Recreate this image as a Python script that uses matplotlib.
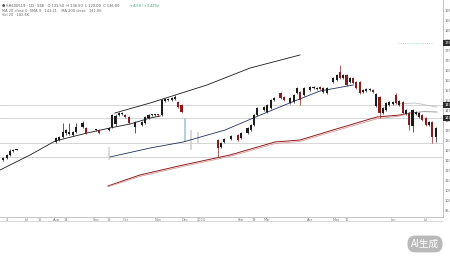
import matplotlib
matplotlib.use('Agg')
import matplotlib.pyplot as plt
from matplotlib.lines import Line2D

# candles: index, open, high, low, close
idx = [1, 2, 3, 4, 5,
       17, 18, 19, 20, 21, 22, 23, 25, 26, 29, 30,
       33, 34, 35, 36, 37, 38, 39, 41, 43, 44, 45, 46, 47, 48,
       49, 50, 51, 52, 53, 54, 55,
       66, 67, 68, 70, 72, 73, 75, 76, 77, 78, 80, 81, 82, 83, 85, 86,
       88, 89, 90, 91, 92, 94, 95, 96, 97, 98, 99,
       101, 102, 103, 104, 105, 106, 107, 108, 109, 110, 111, 112, 113,
       114, 115, 116, 117, 118, 119, 120, 121, 122, 123, 124, 125, 126,
       127, 128, 129, 130, 131, 132]
opens = [120, 121, 122.5, 124.5, 125,
         129, 130, 131.5, 133.5, 133, 132.5, 134, 136.5, 136, 135, 135,
         135, 136.5, 138, 142.5, 143, 142.5, 141.5, 136.5, 137.5, 138.5, 141, 142.5, 142.5, 142.7,
         142.5, 149.5, 150, 150, 150.5, 149, 147.5,
         130, 126.5, 129, 130.5, 132.5, 131, 133.5, 135, 137.5, 142.5, 145, 144, 146, 150, 153.5, 151.5,
         148.5, 149, 153.5, 154, 152.5, 155, 156, 155.5, 156.5, 154, 153.5,
         159, 160, 164, 161, 162.5, 159, 161, 159, 159, 154, 154.5, 155, 155,
         147, 151.5, 143.5, 145, 147.5, 148, 152.5, 147.5, 149, 143, 143.5, 137, 143,
         141.5, 142.5, 141, 137.5, 139, 131.5]
highs = [121.5, 123, 125.5, 125.5, 125.5,
         131.5, 132, 138.5, 135.5, 138.5, 134.5, 138.5, 139.5, 136.5, 135.5, 135.5,
         136.5, 143, 143, 144, 144, 143, 142, 139.5, 139.5, 142, 143, 143, 143, 143,
         150.5, 151, 151, 151.5, 152.5, 149.5, 148,
         130.5, 129, 131, 132.5, 133, 134, 136.5, 138, 143, 146.5, 147, 148, 150.5, 151.5, 154, 152,
         151.5, 153, 156.5, 154.5, 156.5, 157, 157, 156.5, 157, 156.5, 156.5,
         161.5, 163, 167.5, 163, 163, 161.5, 161.5, 159.5, 159.5, 155.5, 156, 156, 155.5,
         153.5, 152, 146.5, 149, 149.5, 149.5, 153.5, 150, 149.5, 145.5, 144, 145.5, 144.5,
         144, 143, 141.5, 139.5, 139.5, 136.5]
lows = [119.5, 120.5, 122, 124, 124.8,
        128.5, 129.5, 131, 132.5, 132.5, 132, 133.5, 136, 133, 134.5, 133,
        134.5, 136, 137, 142, 142.5, 141, 138, 133.5, 137, 138, 140.5, 142, 142, 142.2,
        142, 149, 149.5, 149.5, 150, 146, 143.5,
        121.5, 126, 128.5, 130, 129.5, 130.5, 133, 134.5, 137, 142, 144.5, 143.5, 145.5, 149.5, 150.5, 149.5,
        148, 148.5, 153, 147.5, 152, 154.5, 155.5, 155, 155, 153.5, 153,
        158.5, 159.5, 160.5, 160.5, 157, 158.5, 158, 155.5, 153, 153.5, 154, 154.5, 153.5,
        146.5, 141, 143, 144.5, 147, 147.5, 148, 147, 143, 142.5, 135, 134, 142.5,
        141, 139.5, 137, 137, 128.5, 129]
closes = [121, 122.5, 124.5, 125, 125.2,
          131, 131.5, 134, 135, 134, 134, 136.5, 138.5, 133.5, 135.3, 133.5,
          136, 142.5, 142, 143.5, 143.5, 141.5, 138.5, 139, 139, 141.5, 142.5, 142.7, 142.7, 142.5,
          150, 150.5, 150.5, 151, 151.5, 146.5, 144,
          126, 128.5, 130.5, 132, 130, 133.5, 136, 137.5, 142.5, 146, 146.5, 147.5, 150, 151, 151, 150,
          151, 152.5, 156, 150, 156, 156.5, 156.5, 156, 155.5, 156, 156,
          161, 162.5, 161, 162.5, 157.5, 161, 158.5, 156, 153.5, 155, 155.5, 155.5, 154,
          153, 143.5, 146, 148.5, 149, 149, 148.5, 149.5, 143.5, 145, 137.5, 145, 144,
          143.5, 140, 137.5, 139, 131.5, 136]

# faded bars in the gap
ghost_idx = [33, 56, 58, 60]
ghost_low = [120, 129, 125, 128.5]
ghost_high = [126.5, 141, 135, 134]
ghost_col = ['#d8d8d8', '#a9c6dc', '#cfcfcf', '#cfcfcf']

# drawn lines / averages (index, price)
line_a_x = [0, 9.1, 16.7, 26.4, 33.3, 39.4, 45.5, 48.5]
line_a_y = [115, 122.5, 129.5, 133.5, 136, 138, 141, 142]
line_b_x = [34.8, 45.5, 62.7, 75.8, 90.9]
line_b_y = [143.5, 148.5, 157.5, 166, 172.5]
line_c_x = [33.3, 45.5, 55.5, 68.2, 78.2, 88.5, 97, 107]
line_c_y = [121.5, 126, 129, 135, 142, 149, 154.5, 157.5]
ma_x = [32.7, 42.4, 55.5, 69.7, 83.3, 90.9, 100.9, 114.2, 121.2, 124.2]
ma_slow = [107, 112.5, 117.5, 122.5, 129, 130, 135, 141.5, 142.5, 143.5]
ma_slow2 = [106.6, 111.8, 116.8, 121.8, 128.2, 129.3, 134.2, 140.6, 142, 143.5]
gray1_x = [119.7, 125.8, 132.4]
gray1_y = [148, 148.5, 146.5]
gray2_x = [124.2, 128.5, 132.4]
gray2_y = [143.5, 144.2, 144]
dotted_x = [120.6, 130.9]
dotted_y = [178.5, 178.5]

levels = [147.5, 141, 128.5, 121.5]
marked = [178.5, 147.5, 141]

date_pos = [2, 8, 12, 17, 20, 29, 33, 38, 48, 56, 61, 73, 77, 81, 94, 102, 105, 119, 129]
date_lbl = ['4', 'Jul', '15', 'Aug', '14', 'Sep', '18', 'Oct', 'Nov', 'Dec', '2024', 'Feb', '19',
            'Mar', 'Apr', 'May', '16', 'Jun', 'Jul']

fig = plt.figure(figsize=(4.5, 2.57), dpi=100)
ax = fig.add_axes([0, 40 / 257, 443 / 450, 217 / 257])
ax.set_xlim(0, 443 / 3.3)
ax.set_ylim(91.5, 200)

for lv in levels:
    ax.axhline(lv, color='#cfcfcf', lw=0.6, zorder=0)

for i, lo, hi, c in zip(ghost_idx, ghost_low, ghost_high, ghost_col):
    ax.vlines(i, lo, hi, color=c, lw=1.2, zorder=1)

ax.plot(line_a_x, line_a_y, color='#1a1a1a', lw=0.6, zorder=2)
ax.plot(line_b_x, line_b_y, color='#1a1a1a', lw=0.6, zorder=2)
ax.plot(line_c_x, line_c_y, color='#23305e', lw=0.6, zorder=2)
ax.plot(ma_x, ma_slow, color='#8c1c1c', lw=0.7, zorder=2)
ax.plot(ma_x, ma_slow2, color='#d79a9a', lw=0.6, zorder=2)
ax.plot(gray1_x, gray1_y, color='#bdbdbd', lw=0.6, zorder=2)
ax.plot(gray2_x, gray2_y, color='#8f8f8f', lw=0.6, zorder=2)
ax.plot(dotted_x, dotted_y, color='#8fcfc4', lw=0.6, ls=':', zorder=2)

cols = ['#1c1c1c' if c >= o else '#8b1a1a' for o, c in zip(opens, closes)]
ax.vlines(idx, lows, highs, color=cols, lw=0.5, zorder=3)
bottoms = [min(o, c) for o, c in zip(opens, closes)]
heights = [max(abs(c - o), 0.4) for o, c in zip(opens, closes)]
ax.bar(idx, heights, bottom=bottoms, width=0.65, color=cols, zorder=4)

ax.yaxis.tick_right()
ax.set_yticks(range(95, 200, 5))
ax.set_yticklabels([f'{v:.2f}' for v in range(95, 200, 5)])
ax.tick_params(axis='y', labelsize=2.6, length=0, pad=1.2, colors='#666666')
ax.set_xticks(date_pos)
ax.set_xticklabels(date_lbl)
ax.tick_params(axis='x', labelsize=2.5, length=0, pad=0.6, colors='#777777')
for s in ['top', 'left']:
    ax.spines[s].set_visible(False)
for s in ['right', 'bottom']:
    ax.spines[s].set_color('#bbbbbb')
    ax.spines[s].set_linewidth(0.6)

for v in marked:
    ax.text(1.003, v, f'{v:.2f}', transform=ax.get_yaxis_transform(), fontsize=2.6,
            color='white', va='center', ha='left',
            bbox=dict(boxstyle='square,pad=0.25', fc='#2b2b2b', ec='none'))

fig.add_artist(Line2D([0, 443 / 450], [1 - 221 / 257] * 2, color='#cccccc', lw=0.5))

# legend text in the top left corner
fig.text(0.005, 1 - 6 / 257, '\u25cf SH600519 \u00b7 1D \u00b7 SSE   O 131.50  H 136.50  L 129.00  C 136.00',
         fontsize=2.6, color='#555555', va='center')
fig.text(0.29, 1 - 6 / 257, '+4.50 (+3.42%)', fontsize=2.6, color='#3a9a6a', va='center')
fig.text(0.005, 1 - 10.5 / 257, 'MA 20 close 0  SMA 9   143.21    MA 200 close   141.06',
         fontsize=2.6, color='#666666', va='center')
fig.text(0.005, 1 - 14.5 / 257, 'Vol 20   182.6K', fontsize=2.6, color='#666666', va='center')

fig.text(425 / 450, 1 - 244 / 257, 'AI生成', fontsize=7, color='white', ha='center', va='center',
         family=['Noto Sans CJK SC', 'DejaVu Sans'],
         bbox=dict(boxstyle='round,pad=0.35,rounding_size=0.8', fc='#b9b9b9', ec='none'))

fig.savefig('out.png', dpi=100)
